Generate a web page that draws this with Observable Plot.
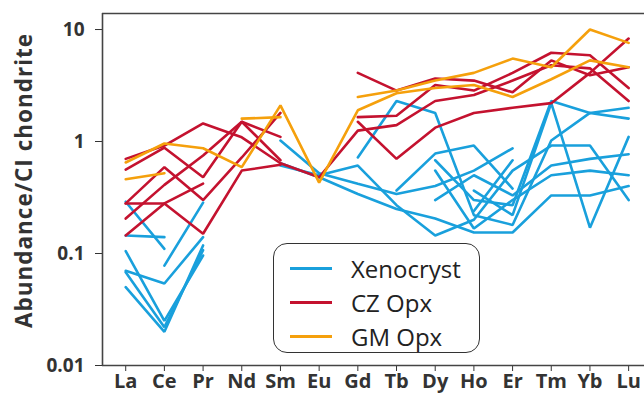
<!DOCTYPE html>
<html><head><meta charset="utf-8">
<script src="https://cdn.jsdelivr.net/npm/d3@7"></script>
<script src="https://cdn.jsdelivr.net/npm/@observablehq/plot@0.6"></script>
<style>
body{margin:0;background:#fff;}
#wrap{position:relative;width:644px;height:405px;}
#legend{position:absolute;left:273px;top:243px;width:207px;height:110px;border:1.6px solid #333;border-radius:14px;box-sizing:border-box;font-family:"Open Sans",sans-serif;font-size:24px;color:#222;background:#fff;}
.row{position:absolute;left:16px;height:34px;display:flex;align-items:center;}
.sw{width:42px;height:0;border-top:3px solid;margin-right:19px;}
svg text{font-weight:bold;}
g[aria-label="x-axis tick label"]{font-size:20px;}
g[aria-label="y-axis tick label"]{font-size:19px;}
g[aria-label="y-axis label"]{font-size:22.5px;letter-spacing:1px;}
g[aria-label="y-axis label"] text{translate:0 -9px;}
</style></head><body><div id="wrap"></div>
<script>
const n = null;
const elements = ["La","Ce","Pr","Nd","Sm","Eu","Gd","Tb","Dy","Ho","Er","Tm","Yb","Lu"];
const yTicks = [0.01, 0.1, 1, 10];
const groups = ["Xenocryst", "CZ Opx", "GM Opx"];
const groupColors = ["#19a0dc", "#c4122f", "#f5a00c"];
const yLabel = "Abundance/CI chondrite";

// Xenocryst (blue)
const xenocryst = [
  [0.29, 0.11, n, n, n, n, n, n, n, n, n, n, n, n],
  [0.145, 0.14, n, n, n, n, n, n, n, n, n, n, n, n],
  [0.105, 0.025, 0.096, n, n, n, n, n, n, n, n, n, n, n],
  [0.07, 0.054, 0.14, n, n, n, n, n, n, n, n, n, n, n],
  [0.05, 0.02, 0.118, n, n, n, n, n, n, n, n, n, n, n],
  [0.068, 0.022, 0.107, n, n, n, n, n, n, n, n, n, n, n],
  [n, 0.078, 0.285, n, n, n, n, n, n, n, n, n, n, n],
  [n, n, n, n, n, n, 0.72, 2.3, 1.8, 0.22, 0.18, 1.02, 1.8, 1.6],
  [n, n, n, n, n, n, n, n, 0.68, 0.30, 0.27, 2.3, 1.8, 2.0],
  [n, n, n, n, n, n, n, n, n, 0.365, 0.22, 2.2, 0.17, 1.1],
  [n, n, n, n, 1.02, 0.52, 0.42, 0.34, 0.40, 0.55, 0.87, n, n, n],
  [n, n, n, n, 0.64, 0.48, 0.34, 0.25, 0.205, 0.154, 0.154, 0.33, 0.33, 0.40],
  [n, n, n, n, 0.61, 0.50, 0.61, 0.27, 0.145, 0.20, 0.55, 0.92, 0.92, 0.30],
  [n, n, n, n, n, n, n, 0.365, 0.78, 0.92, 0.38, n, n, n],
  [n, n, n, n, n, n, n, n, 0.30, 0.50, 0.33, 0.61, 0.70, 0.77],
  [n, n, n, n, n, n, n, n, 0.55, 0.167, 0.30, 0.50, 0.55, 0.50],
  [n, n, n, n, n, n, n, n, n, 0.24, 0.68, n, n, n]
];

// CZ Opx (red)
const czOpx = [
  [0.70, 0.92, 1.45, 1.09, 0.64, 0.48, 1.25, 1.4, 2.3, 2.6, 3.5, 4.8, 4.5, 2.3],
  [0.56, 0.88, 0.48, 1.5, 1.1, n, 1.65, 1.7, 3.2, 2.85, 4.1, 6.2, 5.9, 3.0],
  [0.28, 0.59, 0.30, 0.72, 1.8, n, 1.5, 0.70, 1.33, 1.8, 2.0, 2.2, 4.1, 8.3],
  [0.205, 0.41, 0.75, 1.5, 0.68, n, n, n, n, n, n, n, n, n],
  [0.28, 0.28, 0.15, 0.55, 0.62, n, n, n, n, n, n, n, n, n],
  [0.145, 0.28, 0.42, n, n, n, n, n, n, n, n, n, n, n],
  [n, n, n, n, n, n, 4.1, 2.85, 3.65, 3.5, 2.75, 5.3, 3.9, 4.6]
];

// GM Opx (orange)
const gmOpx = [
  [0.65, 0.96, 0.87, 0.59, 2.1, 0.43, 1.9, 2.7, 3.0, 3.2, 2.5, 3.6, 5.3, 4.6],
  [0.46, 0.52, n, n, n, n, n, n, n, n, n, n, n, n],
  [n, n, n, 1.6, 1.65, n, n, n, n, n, n, n, n, n],
  [n, n, n, n, n, n, 2.5, 2.85, 3.5, 4.1, 5.5, 4.6, 10, 7.6]
];

const rows = [];
[[groups[0], xenocryst], [groups[1], czOpx], [groups[2], gmOpx]].forEach(([g, arr]) => {
  arr.forEach((vals, i) => vals.forEach((v, j) => rows.push({id: g + i, group: g, el: j, value: v})));
});

const xDomain = [-0.6, 13.41];
const yDomain = [0.01, 13.9];

const chart = Plot.plot({
  width: 644,
  height: 405,
  marginLeft: 102,
  marginRight: 0,
  marginTop: 13,
  marginBottom: 40,
  style: {fontFamily: "'Open Sans', sans-serif", color: "#333", background: "#fff"},
  x: {domain: xDomain, ticks: elements.map((d, i) => i), tickFormat: i => elements[i], tickSize: 6, tickPadding: 2, label: null},
  y: {type: "log", domain: yDomain, ticks: yTicks, tickFormat: d => String(d), tickSize: 7, tickPadding: 11,
      label: yLabel, labelAnchor: "center", labelOffset: 86, labelArrow: false},
  color: {domain: groups, range: groupColors},
  marks: [
    Plot.line(rows, {x: "el", y: "value", z: "id", stroke: "group", strokeWidth: 2.6, strokeLinejoin: "miter"}),
    Plot.ruleY([yDomain[0], yDomain[1]], {stroke: "#444", strokeWidth: 1.6}),
    Plot.ruleX([xDomain[0]], {stroke: "#444", strokeWidth: 1.6})
  ]
});
const wrap = document.getElementById("wrap");
wrap.appendChild(chart);

const legend = document.createElement("div");
legend.id = "legend";
groups.forEach((g, i) => {
  const r = document.createElement("div");
  r.className = "row";
  r.style.top = (7 + i * 34) + "px";
  const sw = document.createElement("div");
  sw.className = "sw";
  sw.style.borderTopColor = groupColors[i];
  const t = document.createElement("span");
  t.textContent = g;
  r.appendChild(sw); r.appendChild(t);
  legend.appendChild(r);
});
wrap.appendChild(legend);
</script>
</body></html>
